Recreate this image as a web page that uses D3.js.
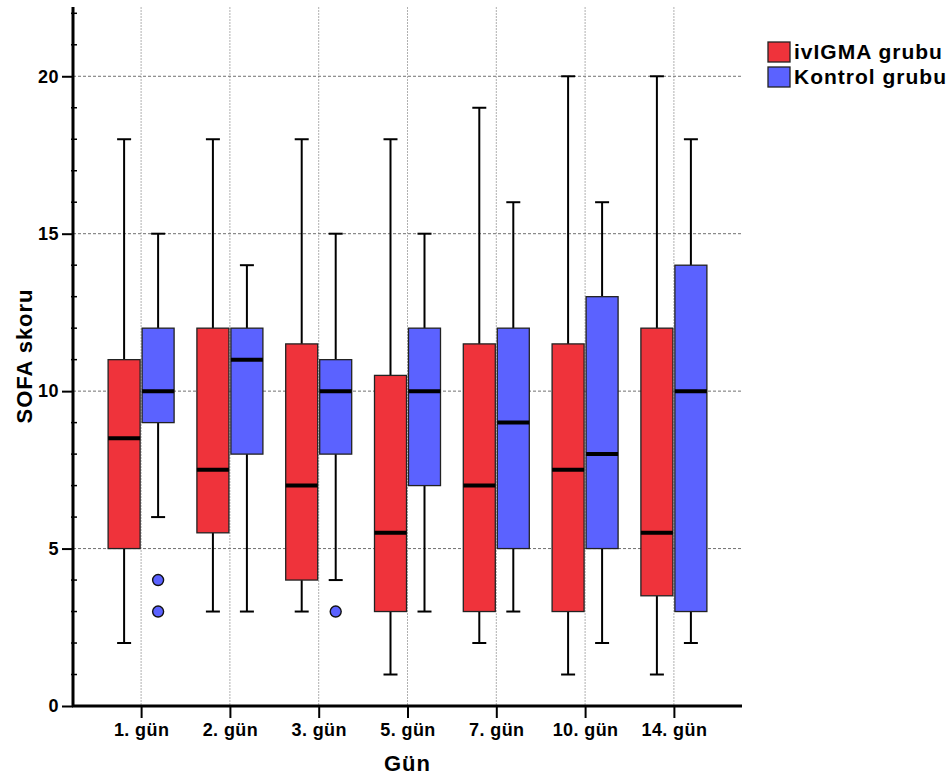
<!DOCTYPE html>
<html>
<head>
<meta charset="utf-8">
<script src="https://cdn.jsdelivr.net/npm/d3@7"></script>
<style>
  body { margin: 0; background: #fff; }
  text { font-family: "Liberation Sans", Arial, sans-serif; font-weight: bold; }
</style>
</head>
<body>
<svg width="951" height="778"></svg>
<script>
// days on the x axis
var days = ["1. gün", "2. gün", "3. gün", "5. gün", "7. gün", "10. gün", "14. gün"];
var groups = ["ivIGMA grubu", "Kontrol grubu"];
var colors = ["#ef333b", "#5b62ff"];

// box stats per day: [min, q1, median, q3, max]
var ivigma = [
  [2, 5, 8.5, 11, 18],
  [3, 5.5, 7.5, 12, 18],
  [3, 4, 7, 11.5, 18],
  [1, 3, 5.5, 10.5, 18],
  [2, 3, 7, 11.5, 19],
  [1, 3, 7.5, 11.5, 20],
  [1, 3.5, 5.5, 12, 20]
];
var kontrol = [
  [6, 9, 10, 12, 15],
  [3, 8, 11, 12, 14],
  [4, 8, 10, 11, 15],
  [3, 7, 10, 12, 15],
  [3, 5, 9, 12, 16],
  [2, 5, 8, 13, 16],
  [2, 3, 10, 14, 18]
];
// outliers: [day index, group index, value]
var outliers = [[0, 1, 4], [0, 1, 3], [2, 1, 3]];

var yTicks = [0, 5, 10, 15, 20];

var svg = d3.select("svg");
var mLeft = 73, mRight = 742, mTop = 7, mBottom = 706;

var x = d3.scalePoint().domain(days).range([mLeft, mRight]).padding(0.767);
var y = d3.scaleLinear().domain([0, 22.2]).range([mBottom, mTop]);
var off = d3.scaleOrdinal().domain([0, 1]).range([-17, 17]);
var boxW = 32, capW = 14;

// grid
svg.append("g").selectAll("line").data(days).enter().append("line")
  .attr("x1", function(d) { return x(d); }).attr("x2", function(d) { return x(d); })
  .attr("y1", mTop).attr("y2", mBottom)
  .attr("stroke", "#b0b0b0").attr("stroke-width", 1).attr("stroke-dasharray", "2,1");
svg.append("g").selectAll("line").data(yTicks.slice(1)).enter().append("line")
  .attr("x1", mLeft).attr("x2", mRight)
  .attr("y1", function(d) { return y(d); }).attr("y2", function(d) { return y(d); })
  .attr("stroke", "#707070").attr("stroke-width", 1).attr("stroke-dasharray", "3,2");

// y axis: major ticks with labels, minor ticks every unit
var yAxis = svg.append("g").attr("transform", "translate(" + mLeft + ",0)")
  .call(d3.axisLeft(y).tickValues(yTicks).tickSize(11).tickPadding(3).tickFormat(d3.format("d")));
yAxis.select(".domain").remove();
yAxis.selectAll("line").attr("stroke", "#000").attr("stroke-width", 2);
yAxis.selectAll("text").attr("font-size", "18px").attr("letter-spacing", "0.5px").attr("fill", "#000");
var minor = d3.range(0, 23).filter(function(v) { return v % 5 != 0; });
svg.append("g").selectAll("line").data(minor).enter().append("line")
  .attr("x1", mLeft - 2).attr("x2", mLeft + 4)
  .attr("y1", function(d) { return y(d); }).attr("y2", function(d) { return y(d); })
  .attr("stroke", "#000").attr("stroke-width", 1.5);
svg.append("line").attr("x1", mLeft).attr("x2", mLeft).attr("y1", mTop).attr("y2", mBottom + 1)
  .attr("stroke", "#000").attr("stroke-width", 3);

// x axis
var xAxis = svg.append("g").attr("transform", "translate(0," + mBottom + ")")
  .call(d3.axisBottom(x).tickSize(12).tickPadding(5));
xAxis.select(".domain").remove();
xAxis.selectAll("line").attr("stroke", "#000").attr("stroke-width", 2);
xAxis.selectAll("text").attr("font-size", "18px").attr("letter-spacing", "0.4px").attr("fill", "#000");
svg.append("line").attr("x1", mLeft - 1).attr("x2", mRight).attr("y1", mBottom).attr("y2", mBottom)
  .attr("stroke", "#000").attr("stroke-width", 3);

// boxes
[ivigma, kontrol].forEach(function(series, gi) {
  var g = svg.append("g");
  var cx = function(i) { return x(days[i]) + off(gi); };
  var sel = g.selectAll("g.box").data(series).enter().append("g").attr("class", "box");
  // whiskers
  sel.append("line").attr("x1", function(d, i) { return cx(i); }).attr("x2", function(d, i) { return cx(i); })
    .attr("y1", function(d) { return y(d[4]); }).attr("y2", function(d) { return y(d[3]); })
    .attr("stroke", "#000").attr("stroke-width", 2);
  sel.append("line").attr("x1", function(d, i) { return cx(i); }).attr("x2", function(d, i) { return cx(i); })
    .attr("y1", function(d) { return y(d[1]); }).attr("y2", function(d) { return y(d[0]); })
    .attr("stroke", "#000").attr("stroke-width", 2);
  [0, 4].forEach(function(k) {
    sel.append("line")
      .attr("x1", function(d, i) { return cx(i) - capW / 2; }).attr("x2", function(d, i) { return cx(i) + capW / 2; })
      .attr("y1", function(d) { return y(d[k]); }).attr("y2", function(d) { return y(d[k]); })
      .attr("stroke", "#000").attr("stroke-width", 2);
  });
  sel.append("rect")
    .attr("x", function(d, i) { return cx(i) - boxW / 2; })
    .attr("y", function(d) { return y(d[3]); })
    .attr("width", boxW)
    .attr("height", function(d) { return y(d[1]) - y(d[3]); })
    .attr("fill", colors[gi]).attr("stroke", "#222").attr("stroke-width", 1.3);
  sel.append("line")
    .attr("x1", function(d, i) { return cx(i) - boxW / 2; }).attr("x2", function(d, i) { return cx(i) + boxW / 2; })
    .attr("y1", function(d) { return y(d[2]); }).attr("y2", function(d) { return y(d[2]); })
    .attr("stroke", "#000").attr("stroke-width", 4);
});

// outliers
svg.append("g").selectAll("circle").data(outliers).enter().append("circle")
  .attr("cx", function(d) { return x(days[d[0]]) + off(d[1]); })
  .attr("cy", function(d) { return y(d[2]); })
  .attr("r", 5.5)
  .attr("fill", function(d) { return colors[d[1]]; })
  .attr("stroke", "#111").attr("stroke-width", 1.4);

// titles
svg.append("text").attr("x", x("5. gün")).attr("y", 771).attr("text-anchor", "middle")
  .attr("font-size", "22px").attr("letter-spacing", "1px").text("Gün");
svg.append("text").attr("transform", "translate(32,356) rotate(-90)").attr("text-anchor", "middle")
  .attr("font-size", "22px").attr("letter-spacing", "1px").text("SOFA skoru");

// legend
var leg = svg.append("g").attr("transform", "translate(768,42)");
groups.forEach(function(name, i) {
  leg.append("rect").attr("x", 0).attr("y", i * 25).attr("width", 22).attr("height", 20)
    .attr("fill", colors[i]).attr("stroke", "#222").attr("stroke-width", 1.3);
  leg.append("text").attr("x", 26).attr("y", i * 25 + 17).attr("font-size", "21px")
    .attr("letter-spacing", "1px").text(name);
});
</script>
</body>
</html>
